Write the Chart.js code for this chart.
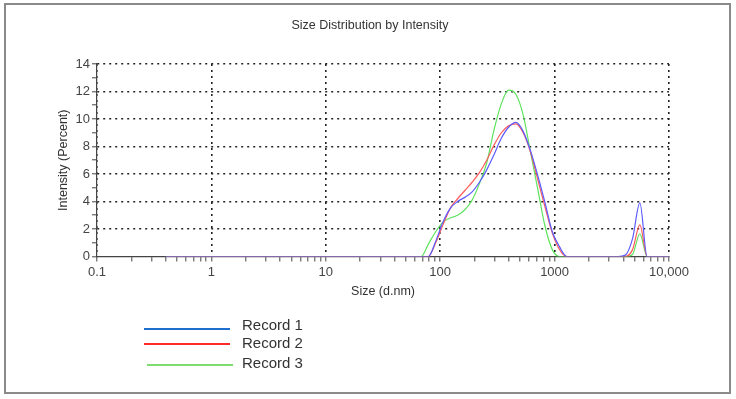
<!DOCTYPE html>
<html>
<head>
<meta charset="utf-8">
<script src="https://cdn.jsdelivr.net/npm/chart.js@4.4.1/dist/chart.umd.min.js"></script>
<style>
  body { margin: 0; background: #fff; }
  canvas { display: block; }
</style>
</head>
<body>
<canvas id="Chart_SIZE" width="736" height="399"></canvas>
<script>
// Classes de taille (d.nm)
const sizes = [0.4, 0.4632, 0.5365, 0.6213, 0.7195, 0.8332, 0.9649, 1.117, 1.294, 1.499,
    1.736, 2.01, 2.328, 2.696, 3.122, 3.615, 4.187, 4.849, 5.615, 6.503,
    7.531, 8.721, 10.1, 11.7, 13.54, 15.69, 18.17, 21.04, 24.36, 28.21,
    32.67, 37.84, 43.82, 50.75, 58.77, 68.06, 78.82, 91.28, 105.7, 122.4,
    141.8, 164.2, 190.1, 220.2, 255.0, 295.3, 342.0, 396.1, 458.7, 531.2,
    615.1, 712.4, 825.0, 955.4, 1106, 1281, 1484, 1718, 1990, 2305,
    2669, 3091, 3580, 4145, 4801, 5560, 6439, 7456, 8635, 10000];

// Intensité (%) pour chaque mesure
const record1 = [0, 0, 0, 0, 0, 0, 0, 0, 0, 0,
    0, 0, 0, 0, 0, 0, 0, 0, 0, 0,
    0, 0, 0, 0, 0, 0, 0, 0, 0, 0,
    0, 0, 0, 0, 0, 0, 0, 1.1, 2.5, 3.5,
    4.0, 4.3, 4.7, 5.4, 6.3, 7.4, 8.6, 9.4, 9.75, 9.1,
    7.7, 5.9, 3.9, 1.8, 0.7, 0, 0, 0, 0, 0,
    0, 0, 0, 0.1, 1.3, 3.9, 0, 0, 0, 0];
const record2 = [0, 0, 0, 0, 0, 0, 0, 0, 0, 0,
    0, 0, 0, 0, 0, 0, 0, 0, 0, 0,
    0, 0, 0, 0, 0, 0, 0, 0, 0, 0,
    0, 0, 0, 0, 0, 0, 0, 1.0, 2.3, 3.5,
    4.2, 4.8, 5.4, 6.1, 7.0, 8.1, 9.0, 9.5, 9.65, 9.0,
    7.6, 5.6, 3.6, 1.7, 0.5, 0, 0, 0, 0, 0,
    0, 0, 0, 0, 0.5, 2.3, 0, 0, 0, 0];
const record3 = [0, 0, 0, 0, 0, 0, 0, 0, 0, 0,
    0, 0, 0, 0, 0, 0, 0, 0, 0, 0,
    0, 0, 0, 0, 0, 0, 0, 0, 0, 0,
    0, 0, 0, 0, 0, 0, 0.9, 1.8, 2.5, 2.8,
    3.0, 3.4, 4.1, 5.3, 6.8, 9.2, 11.1, 12.1, 11.8, 10.3,
    7.6, 4.9, 2.2, 0.5, 0, 0, 0, 0, 0, 0,
    0, 0, 0, 0, 0.15, 1.65, 0, 0, 0, 0];

const recordNames = ['Record 1', 'Record 2', 'Record 3'];

// Graduations de l'axe des tailles
const majorTicks = [0.1, 1, 10, 100, 1000, 10000];
const majorLabels = ['0.1', '1', '10', '100', '1000', '10,000'];

const lineColors = ['#5c5cff', '#ff5c5c', '#5fe35f'];
const legendColors = ['#1f6fd1', '#ff2a2a', '#80dc70'];

const allTicks = [];
majorTicks.forEach(function (m, i) {
    allTicks.push(m);
    if (i < majorTicks.length - 1) {
        for (let k = 2; k <= 9; k++) allTicks.push(m * k);
    }
});

const FONT = '"Liberation Sans", Arial, sans-serif';

function toPoints(values) {
    return values.map(function (v, i) { return { x: sizes[i], y: v }; });
}

// Cadre, titre et légende dessinés à la main
const decorPlugin = {
    id: 'decor',
    beforeDraw(chart) {
        const ctx = chart.ctx;
        ctx.save();
        ctx.strokeStyle = '#8a8a8a';
        ctx.lineWidth = 2;
        ctx.strokeRect(5, 4, 725, 389);
        ctx.restore();
    },
    afterDraw(chart) {
        const ctx = chart.ctx;
        ctx.save();
        ctx.fillStyle = '#333';
        ctx.font = '12.5px ' + FONT;
        ctx.textAlign = 'center';
        ctx.textBaseline = 'middle';
        ctx.fillText('Size Distribution by Intensity', 370, 26);

        const lineRows = [329, 344, 365];
        const textRows = [326, 344, 364];
        const starts = [144, 144, 147];
        ctx.font = '15px ' + FONT;
        ctx.textAlign = 'left';
        lineRows.forEach(function (y, i) {
            ctx.strokeStyle = legendColors[i];
            ctx.lineWidth = 2;
            ctx.beginPath();
            ctx.moveTo(starts[i], y);
            ctx.lineTo(starts[i] + 86, y);
            ctx.stroke();
            ctx.fillStyle = '#333';
            ctx.fillText(recordNames[i], 242, textRows[i]);
        });
        ctx.restore();
    }
};

const SizeChart = new Chart(document.getElementById('Chart_SIZE').getContext('2d'), {
    type: 'line',
    data: {
        datasets: [record1, record2, record3].map(function (vals, i) {
            return {
                label: recordNames[i],
                data: toPoints(vals),
                borderColor: lineColors[i],
                borderWidth: 1.2,
                pointRadius: 0,
                cubicInterpolationMode: 'monotone',
                fill: false
            };
        })
    },
    options: {
        responsive: false,
        animation: false,
        layout: {
            padding: { left: 52.5, top: 64, right: 67, bottom: 99.5 }
        },
        plugins: {
            legend: { display: false },
            title: { display: false },
            tooltip: { enabled: false }
        },
        scales: {
            x: {
                type: 'logarithmic',
                min: 0.1,
                max: 10000,
                afterBuildTicks: function (scale) {
                    scale.ticks = allTicks.map(function (v) { return { value: v }; });
                },
                afterFit: function (scale) { scale.height = 43; },
                ticks: {
                    autoSkip: false,
                    maxRotation: 0,
                    padding: 3,
                    color: '#444',
                    font: { family: FONT, size: 13 },
                    callback: function (value) {
                        const i = majorTicks.indexOf(value);
                        return i >= 0 ? majorLabels[i] : '';
                    }
                },
                grid: {
                    color: function (c) {
                        return c.tick && majorTicks.indexOf(c.tick.value) >= 0 ? '#222' : 'transparent';
                    },
                    lineWidth: 1.6,
                    tickColor: '#444',
                    tickWidth: 1,
                    tickLength: 5,
                    tickBorderDash: []
                },
                border: { color: '#444', width: 1.2, dash: [2, 4] },
                title: {
                    display: true,
                    text: 'Size (d.nm)',
                    color: '#333',
                    font: { family: FONT, size: 12.5 },
                    padding: { top: 4, bottom: 0 }
                }
            },
            y: {
                min: 0,
                max: 14,
                afterFit: function (scale) { scale.width = 44.5; },
                ticks: {
                    stepSize: 1,
                    autoSkip: false,
                    padding: 2,
                    color: '#444',
                    font: { family: FONT, size: 13 },
                    callback: function (value) {
                        return value % 2 === 0 ? value : '';
                    }
                },
                grid: {
                    color: function (c) {
                        return c.tick && c.tick.value % 2 === 0 && c.tick.value > 0 ? '#222' : 'transparent';
                    },
                    lineWidth: 1.6,
                    tickColor: '#444',
                    tickWidth: 1,
                    tickLength: 5,
                    tickBorderDash: []
                },
                border: { color: '#444', width: 1.2, dash: [2, 4] },
                title: {
                    display: true,
                    text: 'Intensity (Percent)',
                    color: '#333',
                    font: { family: FONT, size: 12.5 },
                    padding: { top: 4, bottom: 4 }
                }
            }
        }
    },
    plugins: [decorPlugin]
});
</script>
</body>
</html>
